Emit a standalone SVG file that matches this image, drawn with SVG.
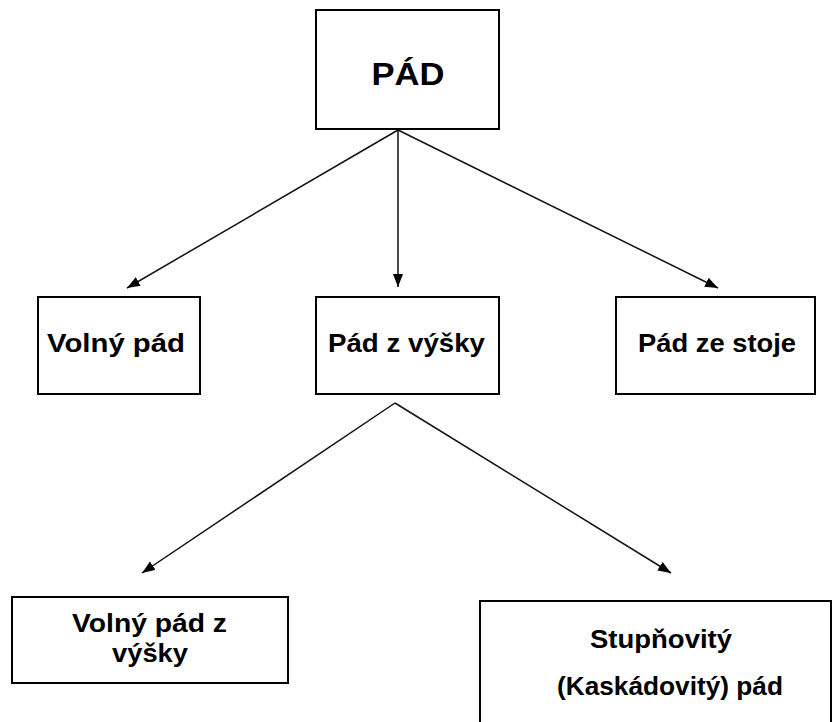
<svg xmlns="http://www.w3.org/2000/svg" width="832" height="722" viewBox="0 0 832 722">
<style>
.box{fill:#fff;stroke:#000;stroke-width:2}
.t{font-family:"Liberation Sans",Arial,sans-serif;font-weight:bold;fill:#000;text-anchor:middle}
.c{stroke:#111;stroke-width:1.5;fill:none;marker-end:url(#ah)}
</style>
<defs>
<marker id="ah" markerUnits="userSpaceOnUse" markerWidth="14" markerHeight="12" refX="13" refY="5" orient="auto">
<path d="M0,0 L13,5 L0,10 Z" fill="#000"/>
</marker>
</defs>
<rect width="832" height="722" fill="#fff"/>
<g id="connectors">
<line class="c" x1="398" y1="130" x2="127" y2="288"/>
<line class="c" x1="398" y1="130" x2="398" y2="287"/>
<line class="c" x1="398" y1="130" x2="718" y2="288"/>
<line class="c" x1="395" y1="403" x2="142" y2="573"/>
<line class="c" x1="395" y1="403" x2="671" y2="573"/>
</g>
<g id="pad">
<rect class="box" x="316" y="10" width="183" height="119"/>
<text class="t" x="408" y="85" font-size="31" textLength="73" lengthAdjust="spacingAndGlyphs">PÁD</text>
</g>
<g id="volny-pad">
<rect class="box" x="38" y="297" width="162" height="97"/>
<text class="t" x="116" y="352" font-size="26" textLength="138" lengthAdjust="spacingAndGlyphs">Volný pád</text>
</g>
<g id="pad-z-vysky">
<rect class="box" x="316" y="297" width="183" height="97"/>
<text class="t" x="406.5" y="352" font-size="26" textLength="157" lengthAdjust="spacingAndGlyphs">Pád z výšky</text>
</g>
<g id="pad-ze-stoje">
<rect class="box" x="616" y="297" width="199" height="97"/>
<text class="t" x="717" y="352" font-size="26" textLength="158" lengthAdjust="spacingAndGlyphs">Pád ze stoje</text>
</g>
<g id="volny-pad-z-vysky">
<rect class="box" x="12" y="597" width="276" height="86"/>
<text class="t" x="149.5" y="632" font-size="26" textLength="155" lengthAdjust="spacingAndGlyphs">Volný pád z</text>
<text class="t" x="150" y="662" font-size="26" textLength="76" lengthAdjust="spacingAndGlyphs">výšky</text>
</g>
<g id="stupnovity-pad">
<rect class="box" x="480" y="601" width="351" height="140"/>
<text class="t" x="661" y="648" font-size="26" textLength="142" lengthAdjust="spacingAndGlyphs">Stupňovitý</text>
<text class="t" x="670" y="695" font-size="26" textLength="226" lengthAdjust="spacingAndGlyphs">(Kaskádovitý) pád</text>
</g>
</svg>
